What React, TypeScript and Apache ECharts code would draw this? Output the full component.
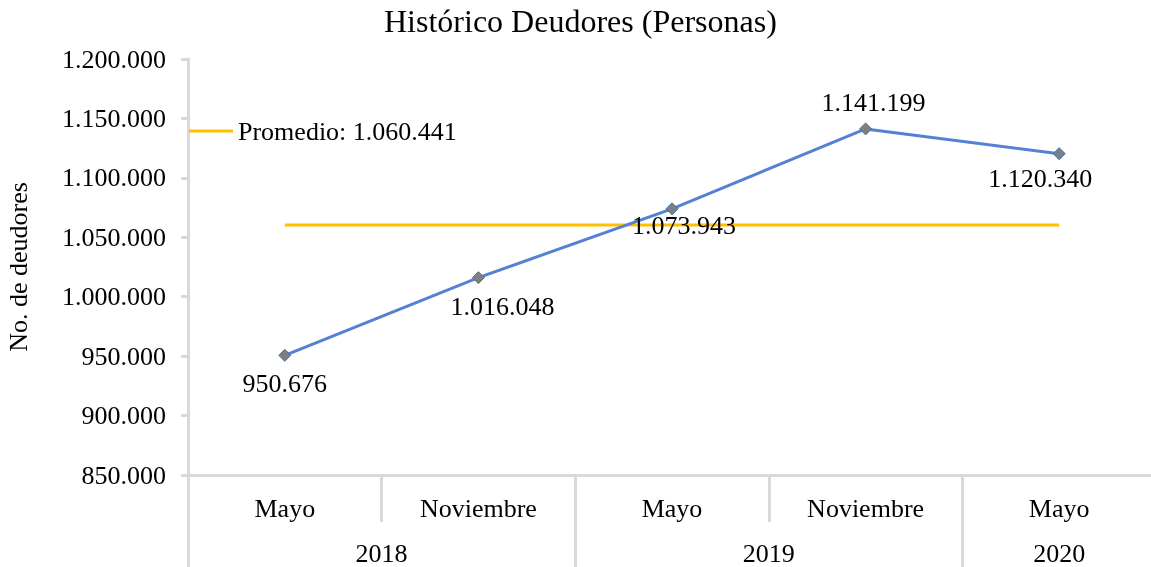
import React, { useEffect, useRef } from "react";
import * as echarts from "echarts";

const months = ["Mayo", "Noviembre", "Mayo", "Noviembre", "Mayo"];
const years = ["2018", "2019", "2020"];
const yearSpans = [2, 2, 1];
const deudores = [950676, 1016048, 1073943, 1141199, 1120340];
const labelPositions = ["bottom", "bottom", "bottom", "top", "bottom"];
const labelDistances = [9, 9, -3, 7, 5];
const labelShiftX = [0, 24, 12, 8, -19];
const promedio = 1060441;
const promedioLabel = "Promedio: 1.060.441";

const FONT = '"Liberation Serif", "Times New Roman", serif';
const fmt = (v: number) => Math.round(v).toString().replace(/\B(?=(\d{3})+(?!\d))/g, ".");

export default function App() {
  const ref = useRef<HTMLDivElement>(null);
  useEffect(() => {
    if (!ref.current) return;
    const chart = echarts.init(ref.current, null, { renderer: "svg" });
    const bounds: number[] = [0];
    const centers: number[] = [];
    let acc = 0;
    yearSpans.forEach((s) => {
      centers.push(acc + s / 2);
      acc += s;
      bounds.push(acc);
    });
    const axisGray = "#D9D9D9";
    chart.setOption({
      animation: false,
      textStyle: { fontFamily: FONT },
      title: {
        text: "Histórico Deudores (Personas)",
        left: 379,
        top: 0,
        textStyle: { fontFamily: FONT, fontSize: 32, fontWeight: "normal", color: "#000" },
      },
      legend: {
        data: [{ name: promedioLabel, icon: "rect" }],
        left: 184,
        top: 113,
        itemWidth: 44,
        itemHeight: 3,
        itemGap: 5,
        textStyle: { fontFamily: FONT, fontSize: 26, color: "#000" },
      },
      grid: { left: 188, top: 59, width: 968, height: 416, outerBoundsMode: "none", containLabel: false },
      xAxis: [
        {
          type: "category",
          data: months,
          position: "bottom",
          boundaryGap: true,
          axisLine: { lineStyle: { color: axisGray, width: 3 } },
          axisTick: { show: true, interval: 0, alignWithLabel: false, length: 47, lineStyle: { color: axisGray, width: 3 } },
          axisLabel: { interval: 0, margin: 20, fontFamily: FONT, fontSize: 26, color: "#000" },
        },
        {
          type: "value",
          min: 0,
          max: bounds[bounds.length - 1],
          position: "bottom",
          offset: 47,
          axisLine: { show: false },
          splitLine: { show: false },
          axisTick: { show: true, customValues: bounds, length: 45, lineStyle: { color: axisGray, width: 3 } },
          axisLabel: {
            customValues: centers,
            margin: 18,
            fontFamily: FONT,
            fontSize: 26,
            color: "#000",
            formatter: (v: number) => {
              const i = centers.findIndex((c) => Math.abs(c - v) < 1e-6);
              return i >= 0 ? years[i] : "";
            },
          },
        },
      ],
      yAxis: {
        type: "value",
        min: 850000,
        max: 1200000,
        interval: 50000,
        name: "No. de deudores",
        nameLocation: "middle",
        nameGap: 157,
        nameTextStyle: { fontFamily: FONT, fontSize: 26, color: "#000" },
        axisLine: { show: true, lineStyle: { color: axisGray, width: 3 } },
        axisTick: { show: true, length: 7, lineStyle: { color: axisGray, width: 3 } },
        splitLine: { show: false },
        axisLabel: { margin: 22, fontFamily: FONT, fontSize: 26, color: "#000", formatter: (v: number) => fmt(v) },
      },
      series: [
        {
          name: "Deudores",
          type: "line",
          xAxisIndex: 0,
          data: deudores.map((v, i) => ({
            value: v,
            label: { position: labelPositions[i], distance: labelDistances[i], offset: [labelShiftX[i], 0] },
          })),
          symbol: "diamond",
          symbolSize: 12,
          lineStyle: { color: "#5580D6", width: 3 },
          itemStyle: { color: "#7F7F7F", borderColor: "#2E75B6", borderWidth: 1 },
          label: {
            show: true,
            fontFamily: FONT,
            fontSize: 26,
            color: "#000",
            formatter: (p: any) => fmt(p.value),
          },
          z: 3,
        },
        {
          name: promedioLabel,
          type: "line",
          xAxisIndex: 0,
          data: deudores.map(() => promedio),
          symbol: "none",
          lineStyle: { color: "#FFC000", width: 3 },
          itemStyle: { color: "#FFC000" },
          z: 2,
        },
      ],
    });
    return () => chart.dispose();
  }, []);
  return <div ref={ref} style={{ position: "fixed", left: 0, top: 0, width: 1151, height: 567 }} />;
}
